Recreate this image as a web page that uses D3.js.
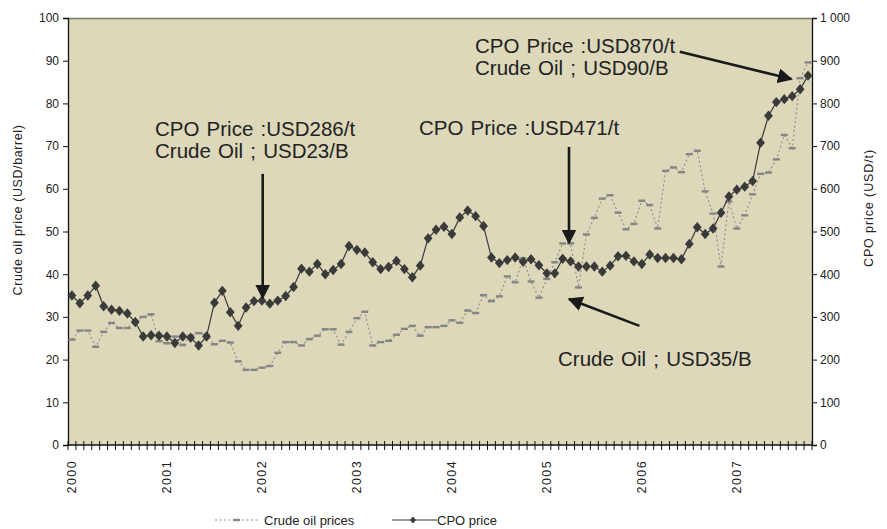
<!DOCTYPE html>
<html>
<head>
<meta charset="utf-8">
<script src="https://cdn.jsdelivr.net/npm/d3@7"></script>
<style>
  body { margin: 0; background: #fff; }
  svg text { font-family: "Liberation Sans", Arial, sans-serif; fill: #222; }
</style>
</head>
<body>
<div id="chart"></div>
<script>
// monthly series, Jan 2000 .. Oct 2007
var years = ["2000", "2001", "2002", "2003", "2004", "2005", "2006", "2007"];

var crudeOil = [
    24.7, 26.8, 26.8, 23.0, 26.5, 28.6, 27.4, 27.4, 29.0, 30.0, 30.6, 24.3,
    23.8, 25.4, 23.4, 25.6, 26.2, 25.8, 23.6, 24.4, 24.0, 19.6, 17.6, 17.6,
    18.1, 18.5, 21.6, 24.1, 24.1, 23.3, 24.8, 25.6, 27.1, 27.1, 23.5, 26.5,
    29.7, 31.2, 23.3, 24.1, 24.4, 25.8, 27.2, 27.9, 25.6, 27.6, 27.6, 27.9,
    29.2, 28.6, 31.5, 30.9, 35.1, 33.7, 34.8, 39.5, 38.1, 43.7, 38.3, 34.5,
    38.9, 42.8, 47.2, 47.2, 36.9, 49.3, 53.2, 57.7, 58.5, 54.4, 50.5, 51.8,
    57.2, 56.2, 50.7, 64.2, 65.0, 63.9, 68.1, 68.9, 59.4, 54.2, 41.8, 57.0,
    50.7, 53.8, 58.7, 63.5, 63.8, 66.9, 72.6, 69.5, 85.9, 89.6
];

var cpoPrice = [
    350, 332, 350, 373, 325, 317, 314, 308, 288, 254, 257, 256,
    254, 239, 254, 251, 233, 254, 333, 361, 311, 279, 322, 337,
    338, 331, 338, 349, 370, 413, 406, 424, 400, 410, 424, 466,
    457, 451, 428, 412, 417, 431, 412, 393, 420, 484, 504, 511,
    494, 533, 549, 536, 513, 439, 426, 433, 439, 429, 435, 421,
    402, 402, 436, 430, 418, 418, 418, 406, 420, 442, 443, 430,
    424, 446, 438, 438, 438, 435, 471, 510, 494, 507, 544, 582,
    598, 605, 618, 708, 771, 803, 810, 817, 833, 865
];

var leftTicks = d3.range(0, 101, 10);
var rightTicks = d3.range(0, 1001, 100);

// annotation texts
var notes = [
    { lines: ["CPO Price :USD286/t", "Crude Oil ; USD23/B"], x: 155, y: 136 },
    { lines: ["CPO Price :USD471/t"], x: 419, y: 135 },
    { lines: ["CPO Price :USD870/t", "Crude Oil ; USD90/B"], x: 475, y: 53 },
    { lines: ["Crude Oil ; USD35/B"], x: 558, y: 366 }
];

// arrows in (month position, CPO value) coordinates
var arrows = [
    { m1: 24.6, v1: 635, m2: 24.6, v2: 344 },
    { m1: 63.3, v1: 698, m2: 63.3, v2: 473 },
    { m1: 77.3, v1: 921, m2: 91.4, v2: 857 },
    { m1: 72.2, v1: 279, m2: 63.3, v2: 342 }
];

var margin = { top: 18, right: 75, bottom: 84, left: 68 },
    width = 887 - margin.left - margin.right,
    height = 529 - margin.top - margin.bottom;

var svg = d3.select("#chart")
    .append("svg")
    .attr("width", 887)
    .attr("height", 529);

var g = svg.append("g")
    .attr("transform", "translate(" + margin.left + "," + margin.top + ")");

var n = cpoPrice.length;
var months = d3.range(n);

var x = d3.scaleBand().domain(months).range([0, width]).padding(0);
var xPos = d3.scaleLinear().domain([0, n]).range([0, width]);
var yL = d3.scaleLinear().domain([0, 100]).range([height, 0]);
var yR = d3.scaleLinear().domain([0, 1000]).range([height, 0]);

// plot background
g.append("rect")
    .attr("width", width)
    .attr("height", height)
    .attr("fill", "#dcd8b9");

g.append("line")
    .attr("x1", 0).attr("x2", width)
    .attr("y1", 0.5).attr("y2", 0.5)
    .attr("stroke", "#7a7a6a")
    .attr("stroke-width", 1.5);

// left axis
var axL = g.append("g")
    .call(d3.axisLeft(yL).tickValues(leftTicks).tickSize(5).tickPadding(4));
axL.selectAll("text").style("font-size", "12px");

// right axis
var axR = g.append("g")
    .attr("transform", "translate(" + width + ",0)")
    .call(d3.axisRight(yR).tickValues(rightTicks).tickSize(5).tickPadding(3)
        .tickFormat(function (d) { return d >= 1000 ? "1 000" : d; }));
axR.selectAll("text").style("font-size", "12px");

[axL, axR].forEach(function (a) {
    a.select(".domain").attr("stroke", "#111").attr("stroke-width", 1.3);
    a.selectAll(".tick line").attr("stroke", "#111");
});

// bottom axis: crossing ticks at month edges
var axB = g.append("g").attr("transform", "translate(0," + height + ")");
axB.append("line")
    .attr("x1", 0).attr("x2", width)
    .attr("stroke", "#111").attr("stroke-width", 1.3);
axB.selectAll(".mt")
    .data(d3.range(n + 1))
    .enter()
    .append("line")
    .attr("x1", function (d) { return xPos(d); })
    .attr("x2", function (d) { return xPos(d); })
    .attr("y1", -4).attr("y2", 5)
    .attr("stroke", "#111");

axB.selectAll(".yl")
    .data(years)
    .enter()
    .append("text")
    .attr("transform", function (d, i) {
        return "translate(" + (x(i * 12) + x.bandwidth() / 2 + 4.5) + ",15) rotate(-90)";
    })
    .attr("text-anchor", "end")
    .style("font-size", "12.5px")
    .style("letter-spacing", "1.4px")
    .text(function (d) { return d; });

// axis titles
svg.append("text")
    .attr("transform", "translate(22,210) rotate(-90)")
    .attr("text-anchor", "middle")
    .style("font-size", "12.5px")
    .style("letter-spacing", "0.6px")
    .text("Crude oil price (USD/barrel)");

svg.append("text")
    .attr("transform", "translate(873,208) rotate(-90)")
    .attr("text-anchor", "middle")
    .style("font-size", "12.5px")
    .style("letter-spacing", "0.9px")
    .text("CPO price (USD/t)");

var cx = function (d, i) { return x(i) + x.bandwidth() / 2; };

// crude oil: dotted line + dash markers
g.append("path")
    .datum(crudeOil)
    .attr("fill", "none")
    .attr("stroke", "#8c8c8c")
    .attr("stroke-width", 1.1)
    .attr("stroke-dasharray", "2,2.5")
    .attr("d", d3.line().x(cx).y(function (d) { return yL(d); }));

g.append("g")
    .selectAll("rect")
    .data(crudeOil)
    .enter()
    .append("rect")
    .attr("x", function (d, i) { return cx(d, i) - 3.5; })
    .attr("y", function (d) { return yL(d) - 1.2; })
    .attr("width", 7)
    .attr("height", 2.4)
    .attr("fill", "#858585");

// CPO: solid line + diamonds
g.append("path")
    .datum(cpoPrice)
    .attr("fill", "none")
    .attr("stroke", "#3a3a3a")
    .attr("stroke-width", 1.2)
    .attr("d", d3.line().x(cx).y(function (d) { return yR(d); }));

g.append("g")
    .selectAll("path")
    .data(cpoPrice)
    .enter()
    .append("path")
    .attr("transform", function (d, i) { return "translate(" + cx(d, i) + "," + yR(d) + ")"; })
    .attr("d", "M0,-5.2L4.4,0L0,5.2L-4.4,0Z")
    .attr("fill", "#3a3a3a");

// arrows
svg.append("defs").append("marker")
    .attr("id", "head")
    .attr("viewBox", "0 0 10 10")
    .attr("refX", 9).attr("refY", 5)
    .attr("markerUnits", "userSpaceOnUse")
    .attr("markerWidth", 15).attr("markerHeight", 15)
    .attr("orient", "auto")
    .append("path")
    .attr("d", "M0,0L10,5L0,10Z")
    .attr("fill", "#1a1a1a");

g.selectAll(".arrow")
    .data(arrows)
    .enter()
    .append("line")
    .attr("x1", function (d) { return xPos(d.m1); })
    .attr("y1", function (d) { return yR(d.v1); })
    .attr("x2", function (d) { return xPos(d.m2); })
    .attr("y2", function (d) { return yR(d.v2); })
    .attr("stroke", "#1a1a1a")
    .attr("stroke-width", 2.6)
    .attr("marker-end", "url(#head)");

// annotation text
notes.forEach(function (nt) {
    var t = svg.append("text")
        .attr("x", nt.x).attr("y", nt.y)
        .style("font-size", "20.5px")
        .style("word-spacing", "1.5px")
        .style("fill", "#222");
    nt.lines.forEach(function (l, k) {
        t.append("tspan").attr("x", nt.x).attr("dy", k === 0 ? 0 : 22).text(l);
    });
});

// legend
var lg = svg.append("g").attr("transform", "translate(0,520)");
lg.append("line")
    .attr("x1", 215).attr("x2", 258)
    .attr("stroke", "#8c8c8c").attr("stroke-dasharray", "2,2.5");
lg.append("rect")
    .attr("x", 233).attr("y", -1.2).attr("width", 7).attr("height", 2.4)
    .attr("fill", "#858585");
lg.append("text")
    .attr("x", 264).attr("y", 5)
    .style("font-size", "13px")
    .text("Crude oil prices");
lg.append("line")
    .attr("x1", 392).attr("x2", 437)
    .attr("stroke", "#3a3a3a").attr("stroke-width", 1.2);
lg.append("path")
    .attr("transform", "translate(413,0)")
    .attr("d", "M0,-3.5L3,0L0,3.5L-3,0Z")
    .attr("fill", "#3a3a3a");
lg.append("text")
    .attr("x", 437).attr("y", 5)
    .style("font-size", "13px")
    .text("CPO price");
</script>
</body>
</html>
